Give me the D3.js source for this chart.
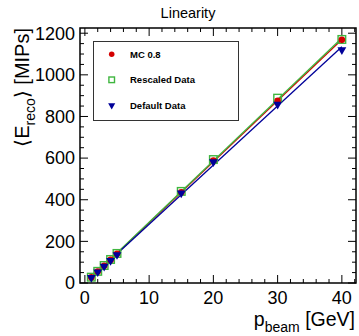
<!DOCTYPE html>
<html>
<head>
<meta charset="utf-8">
<script src="https://cdn.jsdelivr.net/npm/d3@7"></script>
<style>
  body { margin: 0; background: #fff; }
  svg { font-family: "Liberation Sans", Arial, sans-serif; }
</style>
</head>
<body>
<figure id="lin" style="margin:0"></figure>
<script>
// beam momenta (GeV)
const pBeam = [1, 2, 3, 4, 5, 15, 20, 30, 40];
// mean reconstructed energy (MIPs)
const mcValues = [27, 55, 83, 111, 140, 436, 588, 875, 1168];
const rescaledValues = [28, 56, 84, 113, 142, 440, 593, 888, 1170];
const defaultValues = [26, 53, 80, 108, 136, 432, 582, 858, 1120];
const seriesNames = ["MC 0.8", "Rescaled Data", "Default Data"];
const xTicks = [0, 10, 20, 30, 40];
const yTicks = [0, 200, 400, 600, 800, 1000, 1200];

const width = 359, height = 336;
const frame = { left: 80, right: 356, top: 28, bottom: 283 };

const svg = d3.select("figure#lin")
  .append("svg")
  .attr("width", width)
  .attr("height", height);

const x = d3.scaleLinear().domain([-0.76, 42.2]).range([frame.left, frame.right]);
const y = d3.scaleLinear().domain([0, 1225]).range([frame.bottom, frame.top]);

const series = [
  { name: seriesNames[0], values: mcValues, color: "#d40000", marker: "circle" },
  { name: seriesNames[1], values: rescaledValues, color: "#3fb63f", marker: "square" },
  { name: seriesNames[2], values: defaultValues, color: "#000099", marker: "triangle" }
];

// title
svg.append("text")
  .attr("x", 188).attr("y", 18)
  .attr("text-anchor", "middle")
  .style("font-size", "14.5px")
  .text("Linearity");

// ticks, ROOT style: inside on all four sides
const xMinor = d3.range(0, 42.1, 2);
const yMinor = d3.range(0, 1225, 50);
const tickG = svg.append("g").attr("stroke", "#000").attr("stroke-width", 1);
xMinor.forEach(v => {
  const len = v % 10 === 0 ? 8 : 4;
  tickG.append("line").attr("x1", x(v)).attr("x2", x(v)).attr("y1", frame.bottom).attr("y2", frame.bottom - len);
  tickG.append("line").attr("x1", x(v)).attr("x2", x(v)).attr("y1", frame.top).attr("y2", frame.top + len);
});
yMinor.forEach(v => {
  const len = v % 200 === 0 ? 8 : 4;
  tickG.append("line").attr("y1", y(v)).attr("y2", y(v)).attr("x1", frame.left).attr("x2", frame.left + len);
  tickG.append("line").attr("y1", y(v)).attr("y2", y(v)).attr("x1", frame.right).attr("x2", frame.right - len);
});

// tick labels
svg.selectAll(".xl").data(xTicks).enter().append("text")
  .attr("x", d => x(d)).attr("y", 304)
  .attr("text-anchor", "middle")
  .style("font-size", "18px")
  .text(d => d);
svg.selectAll(".yl").data(yTicks).enter().append("text")
  .attr("x", 75).attr("y", d => y(d) + 6.3)
  .attr("text-anchor", "end")
  .style("font-size", "18px")
  .text(d => d);

// axis titles
const xt = svg.append("text")
  .attr("x", 355).attr("y", 326)
  .attr("text-anchor", "end")
  .style("font-size", "19.5px");
xt.append("tspan").text("p");
xt.append("tspan").attr("dy", 6).style("font-size", "14px").text("beam");
xt.append("tspan").attr("dy", -6).text(" [GeV]");

const yt = svg.append("text")
  .attr("transform", "translate(29," + frame.top + ") rotate(-90)")
  .attr("text-anchor", "end")
  .style("font-size", "20px");
yt.append("tspan").text("\u27E8E");
yt.append("tspan").attr("dy", 6).style("font-size", "14px").text("reco");
yt.append("tspan").attr("dy", -6).text("\u27E9 [MIPs]");

// linear fits, drawn from the points
const fit = vals => {
  const mx = d3.mean(pBeam), my = d3.mean(vals);
  const b = d3.sum(pBeam, (p, i) => (p - mx) * (vals[i] - my)) / d3.sum(pBeam, p => (p - mx) * (p - mx));
  return { a: my - b * mx, b: b };
};
series.forEach(s => {
  const f = fit(s.values);
  svg.append("line")
    .attr("x1", x(1)).attr("y1", y(f.a + f.b * 1))
    .attr("x2", x(40)).attr("y2", y(f.a + f.b * 40))
    .attr("stroke", s.color)
    .attr("stroke-width", 1.3);
});

const sym = {
  circle: d3.symbol().type(d3.symbolCircle).size(30),
  triangle: d3.symbol().type(d3.symbolTriangle).size(30)
};
function drawMarker(g, s, cx, cy, big) {
  if (s.marker === "square") {
    const h = big ? 3.8 : 2.8;
    g.append("rect")
      .attr("x", cx - h).attr("y", cy - h)
      .attr("width", 2 * h).attr("height", 2 * h)
      .attr("fill", "none")
      .attr("stroke", s.color)
      .attr("stroke-width", 1.4);
  } else if (s.marker === "circle") {
    g.append("path").attr("d", sym.circle.size(big ? 34 : 24)())
      .attr("transform", "translate(" + cx + "," + cy + ")")
      .attr("fill", s.color);
  } else {
    g.append("path").attr("d", sym.triangle.size(big ? 34 : 22)())
      .attr("transform", "translate(" + cx + "," + cy + ") rotate(180)")
      .attr("fill", s.color);
  }
}

// markers
const order = [1, 0, 2];
const mg = svg.append("g");
order.forEach(k => {
  const s = series[k];
  s.values.forEach((v, i) => drawMarker(mg, s, x(pBeam[i]), y(v), true));
});

// frame
svg.append("rect")
  .attr("x", frame.left).attr("y", frame.top)
  .attr("width", frame.right - frame.left).attr("height", frame.bottom - frame.top)
  .attr("fill", "none")
  .attr("stroke", "#000")
  .attr("stroke-width", 1.5);

// legend
const lg = svg.append("g");
lg.append("rect")
  .attr("x", 93.5).attr("y", 41.5).attr("width", 145).attr("height", 79)
  .attr("fill", "#fff")
  .attr("stroke", "#333")
  .attr("stroke-width", 1);
series.forEach((s, i) => {
  const cy = 54.3 + i * 25.5;
  drawMarker(lg, s, 111.7, cy, false);
  lg.append("text")
    .attr("x", 130).attr("y", cy + 3.4)
    .style("font-size", "9.5px")
    .style("font-weight", "bold")
    .text(s.name);
});
</script>
</body>
</html>
